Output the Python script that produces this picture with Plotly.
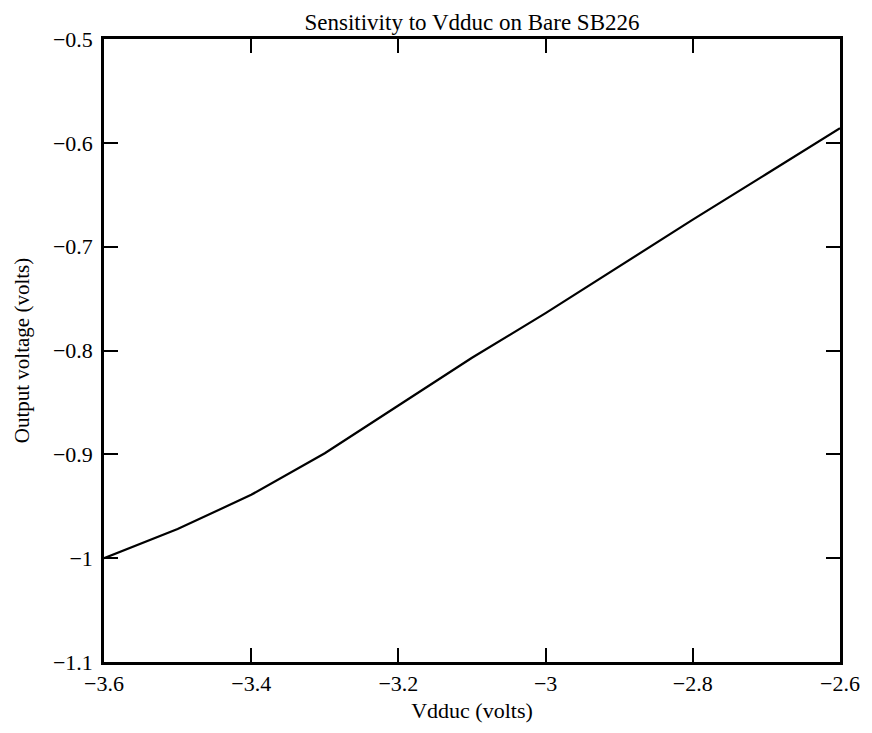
import plotly.graph_objects as go

vdduc = [-3.6, -3.5, -3.4, -3.3, -3.2, -3.1, -3.0, -2.9, -2.8, -2.7, -2.6]
vout = [-1.0, -0.972, -0.939, -0.899, -0.853, -0.807, -0.764, -0.719, -0.674, -0.630, -0.586]

x_ticks = [-3.6, -3.4, -3.2, -3.0, -2.8, -2.6]
x_labels = ["−3.6", "−3.4", "−3.2", "−3", "−2.8", "−2.6"]
y_ticks = [-1.1, -1.0, -0.9, -0.8, -0.7, -0.6, -0.5]
y_labels = ["−1.1", "−1", "−0.9", "−0.8", "−0.7", "−0.6", "−0.5"]

font = "Liberation Serif, Times New Roman, serif"

fig = go.Figure()
fig.add_trace(go.Scatter(x=vdduc, y=vout, mode="lines",
                         line=dict(color="black", width=2.2), showlegend=False))

axis_common = dict(showgrid=False, zeroline=False, showline=True, linecolor="black",
                   linewidth=2.5, mirror="ticks", ticks="inside", ticklen=14,
                   tickwidth=2, tickcolor="black",
                   tickfont=dict(family=font, size=22, color="black"))

fig.update_xaxes(range=[-3.6, -2.6], tickvals=x_ticks, ticktext=x_labels,
                 title=dict(text="Vdduc (volts)", font=dict(family=font, size=22, color="black"), standoff=8),
                 **axis_common)
fig.update_yaxes(range=[-1.1, -0.5], tickvals=y_ticks, ticktext=y_labels,
                 ticklabelstandoff=4,
                 title=dict(text="Output voltage (volts)", font=dict(family=font, size=21, color="black"), standoff=18),
                 **axis_common)

fig.update_layout(
    width=864, height=725,
    margin=dict(l=89, r=26, t=31, b=71),
    plot_bgcolor="white", paper_bgcolor="white",
    title=dict(text="Sensitivity to Vdduc on Bare SB226", x=0.5, xref="paper", xanchor="center",
               y=0.981, yanchor="middle", font=dict(family=font, size=23, color="black")),
)

fig.write_html("out.html")
